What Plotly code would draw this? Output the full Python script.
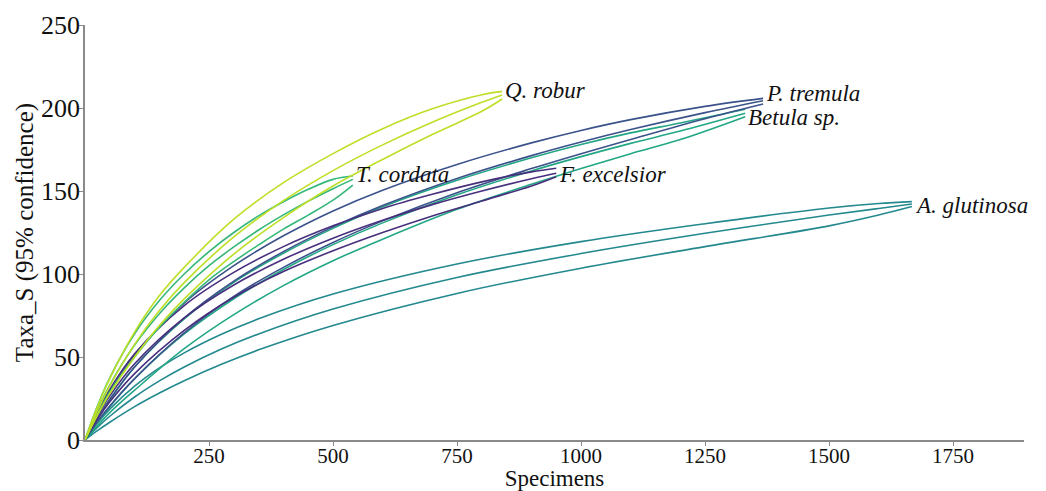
import plotly.graph_objects as go

# ---- data ----
species = ["A. glutinosa", "Betula sp.", "P. tremula", "F. excelsior", "T. cordata", "Q. robur"]
colors = ["#23898e", "#22a785", "#3b528b", "#472f7d", "#35b779", "#bddf26"]

a_glut_x = [0, 25, 50, 100, 150, 200, 275, 350, 500, 750, 1000, 1250, 1500, 1600, 1667]
a_glut_mean = [0, 7.6, 14.3, 25.9, 35.6, 44, 54.8, 63.9, 78.9, 97.9, 112.3, 124.5, 135.5, 139.5, 142.2]
a_glut_upper = [0, 10.1, 18.6, 32.4, 43.4, 52.5, 63.7, 73, 87.9, 106, 119.5, 130.3, 139.8, 142.5, 143.6]
a_glut_lower = [0, 5.6, 10.7, 20.1, 28.3, 35.7, 45.6, 54.3, 69, 88.3, 103.5, 116.5, 129, 135.5, 140.6]

betula_x = [0, 25, 50, 100, 200, 300, 400, 500, 600, 750, 900, 1000, 1100, 1200, 1331]
betula_mean = [0, 10.5, 20.1, 36.9, 63.9, 85.1, 102.7, 117.7, 130.8, 147.7, 162.1, 170.7, 178.7, 186.1, 196.8]
betula_upper = [0, 12.5, 24, 44, 73, 95, 112.5, 127.5, 140.5, 156.5, 170, 178, 185, 191, 199.2]
betula_lower = [0, 8.5, 16.5, 30, 55, 75.5, 93, 108, 121, 139, 154, 163.5, 172.5, 181, 194.8]

p_trem_x = [0, 25, 50, 100, 200, 300, 400, 500, 600, 750, 900, 1000, 1100, 1250, 1367]
p_trem_mean = [0, 13.2, 24.6, 44, 73.5, 95.7, 113.5, 128.4, 141.2, 157.5, 171.3, 179.5, 187, 197.2, 204.4]
p_trem_upper = [0, 15.5, 29, 51, 82.5, 105, 123, 138, 150.5, 166, 179, 186.5, 193, 201, 205.8]
p_trem_lower = [0, 11, 20.5, 37, 64.5, 86.5, 104, 119, 132, 149, 163.5, 172.5, 181, 193.5, 202.4]

f_exc_x = [0, 25, 50, 100, 200, 300, 400, 500, 600, 700, 800, 900, 950]
f_exc_mean = [0, 14.5, 26.6, 45.9, 73.6, 93.4, 108.9, 121.6, 132.4, 141.8, 150, 157.4, 160.7]
f_exc_upper = [0, 16.5, 30.5, 52, 81, 101, 116.5, 129, 139.5, 148, 155.5, 161.5, 163.7]
f_exc_lower = [0, 12.5, 23, 40, 66, 86, 101.5, 114, 125, 135, 144, 153, 158.6]

t_cord_x = [0, 25, 50, 100, 150, 200, 250, 300, 350, 400, 450, 500, 540]
t_cord_mean = [0, 18.1, 33.1, 57.2, 76.1, 91.6, 105, 116.3, 126.5, 135.6, 143.9, 151.4, 157]
t_cord_upper = [0, 20.5, 37.5, 64, 84, 100, 113.5, 125, 135, 143.5, 151, 157, 159]
t_cord_lower = [0, 15.5, 29, 50, 68, 83, 96.5, 107.5, 117.5, 127, 135.5, 144.5, 153.6]

q_rob_x = [0, 25, 50, 100, 150, 200, 300, 400, 500, 600, 700, 800, 841]
q_rob_mean = [0, 17.5, 32.6, 57.6, 78, 94.8, 122.3, 144.2, 162.3, 177.8, 191.4, 203.4, 207.8]
q_rob_upper = [0, 20, 37, 65, 87, 104, 133, 155, 172.5, 187.5, 199.5, 208, 210]
q_rob_lower = [0, 15, 28, 50, 69, 85, 112, 134, 153, 169, 184, 198, 205.4]

xs = [a_glut_x, betula_x, p_trem_x, f_exc_x, t_cord_x, q_rob_x]
means = [a_glut_mean, betula_mean, p_trem_mean, f_exc_mean, t_cord_mean, q_rob_mean]
uppers = [a_glut_upper, betula_upper, p_trem_upper, f_exc_upper, t_cord_upper, q_rob_upper]
lowers = [a_glut_lower, betula_lower, p_trem_lower, f_exc_lower, t_cord_lower, q_rob_lower]

x_ticks = [250, 500, 750, 1000, 1250, 1500, 1750]
y_ticks = [0, 50, 100, 150, 200, 250]

# label pixel offsets (style only)
label_yshift = [-2, -4, 7, -1, 5, 5]

FONT = "Liberation Serif"
TXT = "#111111"

fig = go.Figure()
for name, col, x, m, u, l, ys_ in zip(species, colors, xs, means, uppers, lowers, label_yshift):
    for ys in (u, m, l):
        fig.add_trace(go.Scatter(x=x, y=ys, mode="lines", name=name,
                                 line=dict(color=col, width=1.6, shape="spline", smoothing=1.0),
                                 showlegend=False, hoverinfo="skip"))
    fig.add_annotation(x=x[-1], y=m[-1], text="<i>" + name + "</i>", showarrow=False,
                       xanchor="left", yanchor="middle", xshift=1, yshift=ys_,
                       font=dict(family=FONT, size=23, color=TXT))

axis_common = dict(showgrid=False, zeroline=False, showline=True, linecolor="#8a8a8a",
                   linewidth=1.5, ticks="outside", ticklen=4, tickcolor="#8a8a8a", tickwidth=1,
                   automargin=False)

fig.update_layout(
    width=1046, height=491,
    margin=dict(l=85, r=22, t=25, b=51),
    paper_bgcolor="white", plot_bgcolor="white",
    xaxis=dict(range=[0, 1893], tickvals=x_ticks, ticklabelstandoff=-8,
               tickfont=dict(family=FONT, size=21, color=TXT),
               title=dict(text="Specimens", font=dict(family=FONT, size=23, color=TXT), standoff=6),
               **axis_common),
    yaxis=dict(range=[0, 250], tickvals=y_ticks, ticklabelstandoff=-6,
               tickfont=dict(family=FONT, size=26, color=TXT),
               title=dict(text="Taxa_S (95% confidence)", font=dict(family=FONT, size=25, color=TXT), standoff=0),
               **axis_common),
)

fig.write_html("out.html")
